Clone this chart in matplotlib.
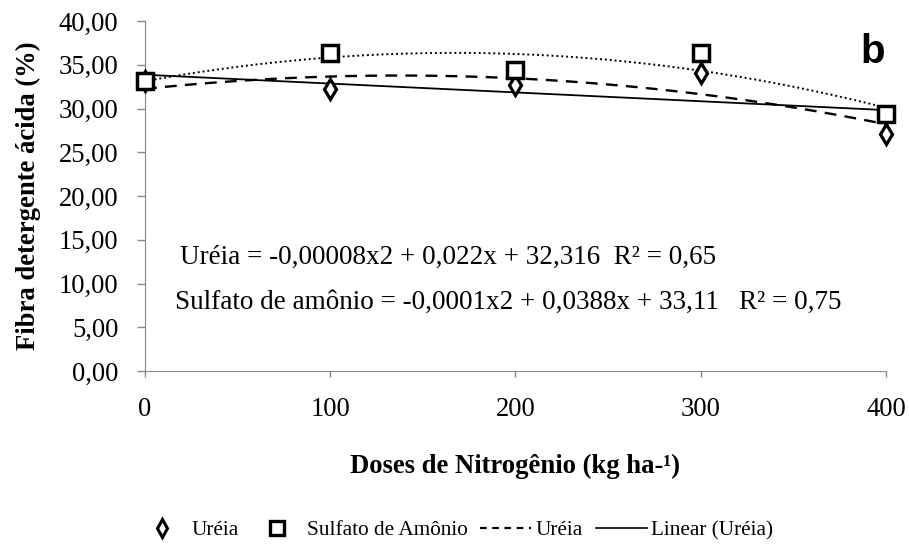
import numpy as np
import matplotlib
matplotlib.use("Agg")
import matplotlib.pyplot as plt
from matplotlib.ticker import FuncFormatter
from matplotlib.lines import Line2D

doses = [0, 100, 200, 300, 400]
ureia = [33.1, 32.2, 32.7, 34.1, 27.1]
sulfato = [33.2, 36.3, 34.4, 36.3, 29.4]
eq_ureia = "Uréia = -0,00008x2 + 0,022x + 32,316  R² = 0,65"
eq_sulfato = "Sulfato de amônio = -0,0001x2 + 0,0388x + 33,11   R² = 0,75"
yticks = [0, 5, 10, 15, 20, 25, 30, 35, 40]
xticks = [0, 100, 200, 300, 400]

plt.rcParams['font.family'] = ['Liberation Serif', 'DejaVu Serif']
FS = 19.2

fig = plt.figure(figsize=(9.09, 5.46), dpi=100)
ax = fig.add_axes([0.1595, 0.3205, 0.8152, 0.641])

xs = np.linspace(0, 400, 200)
pu2 = np.polyfit(doses, ureia, 2)
ps2 = np.polyfit(doses, sulfato, 2)
pu1 = np.polyfit(doses, ureia, 1)
ax.plot(xs, np.polyval(ps2, xs), color='black', lw=1.4, linestyle=(0, (1, 1.5)), zorder=2)
ax.plot(xs, np.polyval(pu2, xs), color='black', lw=1.7, linestyle=(0, (5, 3.5)), zorder=2)
ax.plot(xs, np.polyval(pu1, xs), color='black', lw=1.3, zorder=2)

ax.plot(doses, ureia, linestyle='none', marker='d', ms=10.5, mfc='white', mec='black', mew=2.3, zorder=3, clip_on=False)
ax.plot(doses, sulfato, linestyle='none', marker='s', ms=11, mfc='white', mec='black', mew=2.5, zorder=3, clip_on=False)

ax.set_xlim(0, 400)
ax.set_ylim(0, 40)
ax.set_xticks(xticks)
ax.set_yticks(yticks)
ax.yaxis.set_major_formatter(FuncFormatter(lambda v, p: f"{v:.2f}".replace('.', ',')))
ax.tick_params(axis='both', labelsize=FS, color='#888888', width=1)
ax.tick_params(axis='x', length=4.5, pad=14)
ax.tick_params(axis='y', length=6, pad=13)
for s in ['top', 'right']:
    ax.spines[s].set_visible(False)
for s in ['left', 'bottom']:
    ax.spines[s].set_color('#888888')

ax.set_ylabel('Fibra detergente ácida (%)', fontsize=FS, fontweight='bold', labelpad=13)
ax.set_xlabel('Doses de Nitrogênio (kg ha-¹)', fontsize=FS, fontweight='bold', labelpad=23)

ax.text(0.047, 0.326, eq_ureia, transform=ax.transAxes, fontsize=19.5, va='center')
ax.text(0.040, 0.197, eq_sulfato, transform=ax.transAxes, fontsize=19.5, va='center')
fig.text(0.974, 0.905, 'b', fontsize=29, fontweight='bold', family='Liberation Sans', ha='right', va='center')

handles = [
    Line2D([], [], linestyle='none', marker='d', ms=9, mfc='white', mec='black', mew=2.2),
    Line2D([], [], linestyle='none', marker='s', ms=10, mfc='white', mec='black', mew=2.4),
    Line2D([], [], color='black', lw=1.6, linestyle=(0, (3, 2.5))),
    Line2D([], [], color='black', lw=1.2),
]
labels = ['Uréia', 'Sulfato de Amônio', 'Uréia', 'Linear (Uréia)']
fig.legend(handles, labels, loc='center', bbox_to_anchor=(0.5, 0.029), ncol=4, frameon=False,
           fontsize=15.3, handlelength=2.4, columnspacing=0.6, handletextpad=0.2)

fig.savefig('out.png', dpi=100)
